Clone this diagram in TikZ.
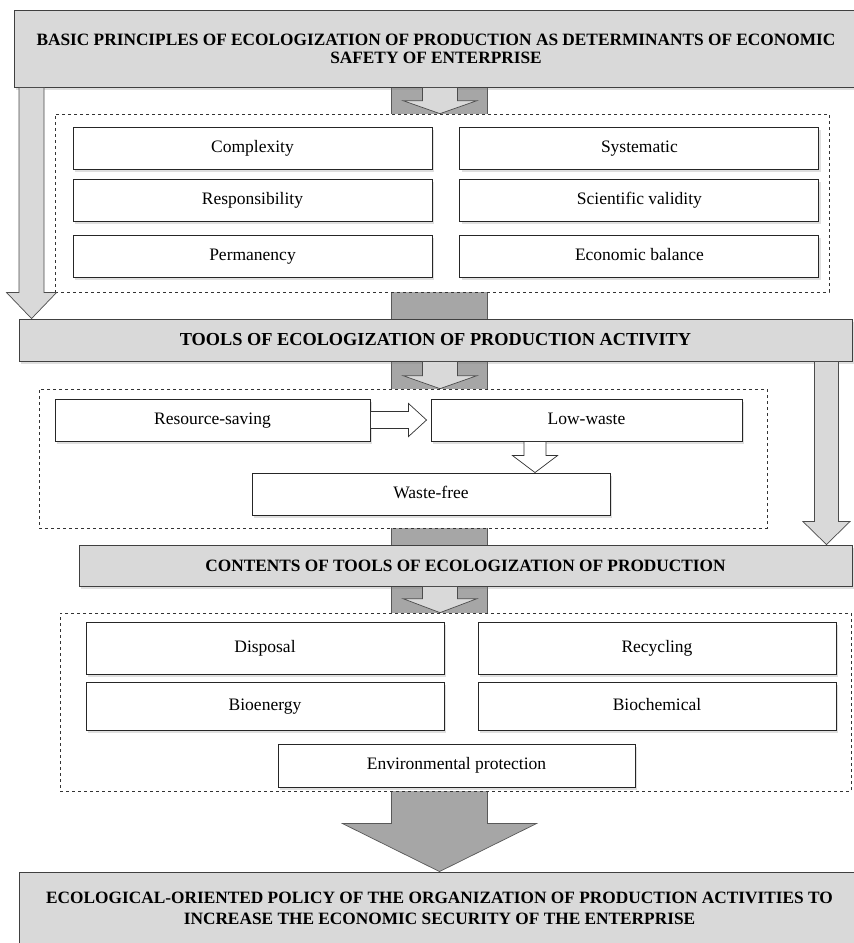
\documentclass[tikz,border=0pt]{standalone}
\usepackage{fontspec}
\setmainfont{Liberation Serif}
\usetikzlibrary{positioning}
\usetikzlibrary{calc}
\usetikzlibrary{shadows}
\usetikzlibrary{backgrounds}

\definecolor{headgray}{gray}{0.85}
\definecolor{pipegray}{gray}{0.65}

\tikzset{
  headbox/.style={draw=black!75, fill=headgray, line width=0.9pt, inner sep=0pt, align=center,
    font=\fontsize{17.3}{18}\selectfont\bfseries,
    drop shadow={shadow xshift=2pt, shadow yshift=-3pt, opacity=0.25}},
  itembox/.style={draw=black!85, fill=white, line width=0.9pt, inner sep=0pt,
    text height=12pt, text depth=4pt,
    minimum width=359pt, minimum height=42pt, font=\fontsize{17.5}{20}\selectfont,
    drop shadow={shadow xshift=2pt, shadow yshift=-3pt, opacity=0.25}},
  groupbox/.style={draw=black!80, dashed, fill=white, line width=0.7pt, inner sep=0pt},
  pipearrow/.style={draw=black!65, fill=pipegray, line width=0.7pt},
  lightarrow/.style={draw=black!70, fill=headgray, line width=0.7pt},
  hollowarrow/.style={draw=black!80, fill=white, line width=0.7pt}
}

% block arrow pointing down: style, top point, tip, shaft half, head half, head length
\newcommand{\downblock}[6]{%
  \draw[#1] ($(#3 |- #2)+(-#4,0)$) -- ($(#3)+(-#4,-#6)$) -- ($(#3)+(-#5,-#6)$) -- (#3)
    -- ($(#3)+(#5,-#6)$) -- ($(#3)+(#4,-#6)$) -- ($(#3 |- #2)+(#4,0)$) -- cycle;}

\begin{document}
\begin{tikzpicture}[x=1pt, y=-1pt]
  \useasboundingbox (0,0) rectangle (854,943);

  % dashed groups
  \node[groupbox, minimum width=774pt, minimum height=178pt] (d1) at (442,203) {};
  \node[groupbox, minimum width=728pt, minimum height=139pt] (d2) at (403,458.5) {};
  \node[groupbox, minimum width=791pt, minimum height=178pt] (d3) at (455.5,702) {};

  % headers
  \node[headbox, minimum width=844pt, minimum height=77pt] (b1) at (436,48.5)
    {BASIC PRINCIPLES OF ECOLOGIZATION OF PRODUCTION AS DETERMINANTS OF ECONOMIC\\ SAFETY OF ENTERPRISE};
  \node[headbox, minimum width=833pt, minimum height=42pt, font=\fontsize{18.3}{20}\selectfont\bfseries] (b2) at (435.5,340)
    {TOOLS OF ECOLOGIZATION OF PRODUCTION ACTIVITY};
  \node[headbox, minimum width=773pt, minimum height=41pt] (b3) at (465.5,565.5)
    {CONTENTS OF TOOLS OF ECOLOGIZATION OF PRODUCTION};
  \node[headbox, minimum width=841pt, minimum height=73pt, font=\fontsize{17.3}{21}\selectfont\bfseries] (b4) at (439.5,908.5)
    {ECOLOGICAL-ORIENTED POLICY OF THE ORGANIZATION OF PRODUCTION ACTIVITIES TO\\ INCREASE THE ECONOMIC SECURITY OF THE ENTERPRISE};

  % principles
  \node[itembox] (cmp) at (252.5,148) {Complexity};
  \node[itembox, right=27pt of cmp] (sys) {Systematic};
  \node[itembox] (rsp) at (252.5,200) {Responsibility};
  \node[itembox, right=27pt of rsp] (sci) {Scientific validity};
  \node[itembox] (prm) at (252.5,256) {Permanency};
  \node[itembox, right=27pt of prm] (ecb) {Economic balance};

  % tools
  \node[itembox, minimum width=315pt] (rs) at (212.5,420) {Resource-saving};
  \node[itembox, minimum width=311pt] (lw) at (586.5,420) {Low-waste};
  \node[itembox, minimum width=358pt] (wf) at (431,494) {Waste-free};

  % contents
  \node[itembox, minimum width=358pt, minimum height=52pt] (dsp) at (265,648) {Disposal};
  \node[itembox, minimum width=358pt, minimum height=52pt] (rcy) at (657,648) {Recycling};
  \node[itembox, minimum width=358pt, minimum height=48pt] (bie) at (265,706) {Bioenergy};
  \node[itembox, minimum width=358pt, minimum height=48pt] (bic) at (657,706) {Biochemical};
  \node[itembox, minimum width=357pt, minimum height=43pt] (env) at (456.5,765.5) {Environmental protection};

  \coordinate (axis) at (440,0);
  \coordinate (ltip) at ($(b2.north west)+(13,0)$);
  \coordinate (rtip) at ($(b3.north east)+(-26,0)$);
  \coordinate (wtip) at ($(wf.north)+(104,0)$);

  % main pipe behind everything
  \begin{pgfonlayer}{background}
    \downblock{pipearrow}{b1.south}{b4.north}{48}{97}{48}
  \end{pgfonlayer}

  % arrows in the pipe
  \downblock{lightarrow}{b1.south}{axis |- d1.north}{17.5}{37}{13}
  \downblock{lightarrow}{b2.south}{axis |- d2.north}{17.5}{37}{13}
  \downblock{lightarrow}{b3.south}{axis |- d3.north}{17.5}{37}{14}

  % side arrows
  \downblock{lightarrow}{b1.south}{ltip}{12.5}{25}{26}
  \downblock{lightarrow}{b2.south}{rtip}{12}{23.5}{23}

  % hollow arrows between tools
  \draw[hollowarrow] ($(rs.east)+(0,-8.5)$) -- ($(lw.west)+(-22,-8.5)$) -- ($(lw.west)+(-22,-16.5)$)
    -- ($(lw.west)+(-4,0)$) -- ($(lw.west)+(-22,16.5)$) -- ($(lw.west)+(-22,8.5)$) -- ($(rs.east)+(0,8.5)$) -- cycle;
  \downblock{hollowarrow}{lw.south}{wtip}{11}{22.5}{17}
\end{tikzpicture}
\end{document}
